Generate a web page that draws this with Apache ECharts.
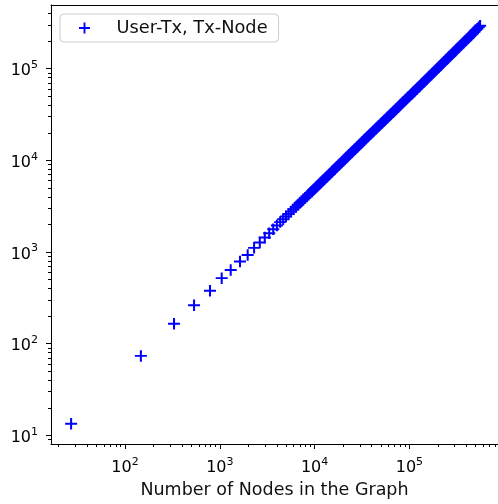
<!DOCTYPE html>
<html><head><meta charset="utf-8">
<script src="https://cdn.jsdelivr.net/npm/echarts@6/dist/echarts.min.js"></script>
<style>html,body{margin:0;padding:0;background:#fff}#c{width:498px;height:504px}</style>
</head><body><div id="c"></div>
<script>
const seriesName = 'User-Tx, Tx-Node';
const xAxisName = 'Number of Nodes in the Graph';

// x: number of nodes, y: number of edges
const nodes = [27, 147, 329, 535, 788, 1047, 1303, 1633, 1967,
  2300, 2640, 2980, 3320, 3660,
  4000, 4330, 4660, 4990, 5320, 5650, 5980, 6310, 6640, 6970, 7300, 7630, 7960, 8290, 8620,
  8950, 9280, 9610, 9940,
  10300, 10660, 11030, 11420, 11820, 12230, 12660, 13100, 13560, 14040, 14530, 15040, 15560,
  16110, 16670, 17250, 17860, 18480, 19130, 19800, 20490, 21210, 21950, 22720, 23510, 24340,
  25190, 26070, 26980, 27930, 28900, 29920, 30960, 32050, 33170, 34330, 35530, 36780, 38060,
  39400, 40780, 42200, 43680, 45210, 46790, 48430, 50120, 51880, 53690, 55570, 57520, 59530,
  61620, 63770, 66000, 68310, 70700, 73180, 75740, 78390, 81140, 83980, 86920, 89960, 93110,
  96370, 99740, 103200, 106800, 110600, 114400, 118500, 122600, 126900, 131300, 135900,
  140700, 145600, 150700, 156000, 161400, 167100, 172900, 179000, 185200, 191700, 198400,
  205400, 212600, 220000, 227700, 235700, 243900, 252500, 261300, 270400, 279900, 289700,
  299800, 310300, 321200, 332400, 344100, 356100, 368600, 381500, 394800, 408600, 422900,
  437700, 453100, 468900, 485300, 502300, 519900, 538100, 556900];
const edges = [13.4, 73.6, 165, 262, 378, 519, 638, 787, 929,
  1110, 1270, 1440, 1600, 1770,
  1950, 2120, 2280, 2440, 2600, 2770, 2930, 3090, 3250, 3420, 3580, 3740, 3900, 4060, 4230,
  4390, 4550, 4710, 4880,
  5060, 5240, 5420, 5610, 5810, 6010, 6230, 6450, 6680, 6920, 7160, 7420, 7680,
  7950, 8230, 8520, 8830, 9140, 9460, 9800, 10150, 10510, 10880, 11270, 11670, 12080,
  12510, 12950, 13410, 13880, 14370, 14880, 15410, 15950, 16520, 17100, 17710, 18340, 18980,
  19660, 20350, 21070, 21810, 22580, 23380, 24200, 25060, 25940, 26850, 27790, 28770, 29780,
  30830, 31910, 33030, 34190, 35390, 36650, 37940, 39280, 40670, 42100, 43590, 45130, 46730,
  48370, 50080, 51850, 53690, 55630, 57570, 59670, 61780, 63990, 66250, 68620,
  71080, 73600, 76220, 78960, 81760, 84720, 87720, 90890, 94110, 97490, 100900,
  104600, 108400, 112300, 116300, 120500, 124800, 129300, 133900, 138700, 143700, 148900,
  154200, 159700, 165500, 171400, 177600, 183900, 190500, 197300, 204300, 211600, 219200,
  227000, 235100, 243500, 252200, 263500, 273200, 283100, 294000];

const xMajorTicks = [100, 1000, 10000, 100000];
const yMajorTicks = [10, 100, 1000, 10000, 100000];
const xMinorTicks = [20, 30, 40, 50, 60, 70, 80, 90,
  200, 300, 400, 500, 600, 700, 800, 900,
  2000, 3000, 4000, 5000, 6000, 7000, 8000, 9000,
  20000, 30000, 40000, 50000, 60000, 70000, 80000, 90000,
  200000, 300000, 400000, 500000, 600000, 700000, 800000];
const yMinorTicks = [9, 20, 30, 40, 50, 60, 70, 80, 90,
  200, 300, 400, 500, 600, 700, 800, 900,
  2000, 3000, 4000, 5000, 6000, 7000, 8000, 9000,
  20000, 30000, 40000, 50000, 60000, 70000, 80000, 90000,
  200000, 300000, 400000];

// the plot runs past the right edge of the picture; visible range only
const X_MIN = 16.57, X_MAX = 860000;
const Y_MIN = 8.05, Y_MAX = 495000;

const FONT = 'DejaVu Sans';
const plusPath = 'path://M0,4.15H10V5.85H0Z M4.15,0H5.85V10H4.15Z';

const powLabel = v => '{b|10}{s|' + Math.round(Math.log10(v)) + '}';
const labelRich = {
  b: {fontSize: 16, fontFamily: FONT, color: '#000', padding: [6.5, 0, 1.5, 0], verticalAlign: 'top'},
  s: {fontSize: 11, fontFamily: FONT, color: '#000', padding: [3, 0, 10, 0], verticalAlign: 'top'}
};

function majorAxis(min, max, ticks, extra) {
  return Object.assign({
    type: 'log', min: min, max: max, logBase: 10,
    axisLine: {show: true, lineStyle: {color: '#000', width: 1}},
    axisTick: {show: true, customValues: ticks, length: 5, lineStyle: {color: '#000', width: 1}},
    axisLabel: {show: true, customValues: ticks, formatter: powLabel, rich: labelRich, color: '#000'},
    splitLine: {show: false}, minorTick: {show: false}, minorSplitLine: {show: false}
  }, extra);
}
function minorAxis(min, max, ticks, extra) {
  return Object.assign({
    type: 'log', min: min, max: max, logBase: 10,
    axisLine: {show: false},
    axisTick: {show: true, customValues: ticks, length: 3, lineStyle: {color: '#000', width: 1}},
    axisLabel: {show: false},
    splitLine: {show: false}
  }, extra);
}

const chart = echarts.init(document.getElementById('c'), null, {renderer: 'canvas'});
chart.setOption({
  animation: false,
  backgroundColor: '#fff',
  grid: {left: 51, top: 5, right: 0, bottom: 57, show: false, containLabel: false},
  legend: {
    data: [{name: seriesName, icon: plusPath}],
    left: 60, top: 14,
    itemWidth: 40, itemHeight: 11,
    padding: [5, 11, 5, 19],
    borderColor: '#cccccc', borderWidth: 1, borderRadius: 4,
    backgroundColor: 'rgba(255,255,255,0.8)',
    selectedMode: false,
    formatter: n => '{t|' + n + '}',
    textStyle: {rich: {t: {fontSize: 17.8, fontFamily: FONT, color: '#111', padding: [0, 0, 0, 7]}}}
  },
  xAxis: [
    majorAxis(X_MIN, X_MAX, xMajorTicks, {
      position: 'bottom',
      name: xAxisName, nameLocation: 'middle', nameGap: 37,
      nameTextStyle: {fontSize: 17.5, fontFamily: FONT, color: '#111'},
      axisLabel: {show: true, customValues: xMajorTicks, formatter: powLabel, rich: labelRich, margin: 9.5}
    }),
    minorAxis(X_MIN, X_MAX, xMinorTicks, {position: 'bottom'}),
    {type: 'log', min: X_MIN, max: X_MAX, position: 'top',
     axisLine: {show: true, lineStyle: {color: '#000', width: 1}},
     axisTick: {show: false}, axisLabel: {show: false}, splitLine: {show: false}}
  ],
  yAxis: [
    majorAxis(Y_MIN, Y_MAX, yMajorTicks, {
      position: 'left',
      axisLabel: {show: true, customValues: yMajorTicks, formatter: powLabel, rich: labelRich, margin: 13}
    }),
    minorAxis(Y_MIN, Y_MAX, yMinorTicks, {position: 'left'})
  ],
  series: [{
    type: 'scatter', name: seriesName,
    xAxisIndex: 0, yAxisIndex: 0,
    data: nodes.map((x, i) => [x, edges[i]]),
    symbol: plusPath, symbolSize: [12, 11.5],
    itemStyle: {color: '#0000ff', opacity: 1},
    emphasis: {disabled: true},
    silent: true
  }]
});
</script></body></html>
